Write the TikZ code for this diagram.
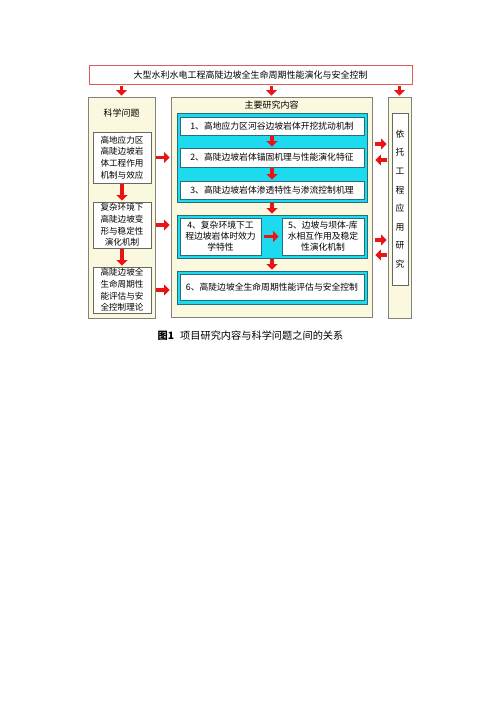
\documentclass[tikz,border=0pt]{standalone}
\usepackage{fontspec}
\setmainfont{Noto Sans CJK SC}
\usetikzlibrary{arrows.meta,calc}
\definecolor{panelfill}{RGB}{250,248,222}
\definecolor{panelline}{RGB}{130,130,120}
\definecolor{cyanfill}{RGB}{30,218,238}
\definecolor{cyanline}{RGB}{40,110,120}
\definecolor{arrowred}{RGB}{235,20,20}
\definecolor{topline}{RGB}{225,90,90}
\tikzset{
  panel/.style={draw=panelline, line width=0.9pt, fill=panelfill, minimum width=#1, inner sep=0pt},
  box/.style={draw=panelline!80!black, line width=0.8pt, fill=white, inner sep=0pt, align=center,
    font=\fontsize{8.6}{11.6}\selectfont},
  cyanbox/.style={draw=cyanline, line width=0.8pt, fill=cyanfill, inner sep=0pt},
  wbox/.style={draw=cyanline, line width=0.8pt, fill=white, inner sep=0pt, align=center,
    font=\fontsize{8.8}{11}\selectfont},
  ttl/.style={font=\fontsize{9}{11}\selectfont, inner sep=0pt},
  redarrow/.style={draw=arrowred, line width=3.8pt, -{Triangle[length=5.5pt,width=11pt]},
    shorten <=1pt, shorten >=1pt},
}
\begin{document}
\begin{tikzpicture}[x=1pt,y=-1pt]
\useasboundingbox[fill=white] (0,0) rectangle (500,708);
% top
\node[draw=topline, line width=0.9pt, fill=white, minimum width=323pt, minimum height=19pt,
  inner sep=0pt, font=\fontsize{9}{11}\selectfont] (top) at (250.5,75)
  {大型水利水电工程高陡边坡全生命周期性能演化与安全控制};
% left panel
\node[panel=67pt, minimum height=221pt] (L) at (121.5,207.5) {};
\node[ttl] (Lt) at (121.5,113) {科学问题};
\node[box, minimum width=58pt, minimum height=51pt] (L1) at (122,157.5) {高地应力区\\高陡边坡岩\\体工程作用\\机制与效应};
\node[box, minimum width=58pt, minimum height=46pt] (L2) at (122,225) {复杂环境下\\高陡边坡变\\形与稳定性\\演化机制};
\node[box, minimum width=58pt, minimum height=46pt] (L3) at (122,290) {高陡边坡全\\生命周期性\\能评估与安\\全控制理论};
% middle panel
\node[panel=201pt, minimum height=220pt] (M) at (271.5,207) {};
\node[ttl] (Mt) at (271.5,105) {主要研究内容};
\node[cyanbox, minimum width=190pt, minimum height=89pt] (CA) at (272,157.5) {};
\node[wbox, minimum width=184pt, minimum height=18pt] (B1) at (272,126) {1、高地应力区河谷边坡岩体开挖扰动机制};
\node[wbox, minimum width=184pt, minimum height=19pt] (B2) at (272,157.5) {2、高陡边坡岩体锚固机理与性能演化特征};
\node[wbox, minimum width=184pt, minimum height=18pt] (B3) at (272,190) {3、高陡边坡岩体渗透特性与渗流控制机理};
\node[cyanbox, minimum width=190pt, minimum height=43pt] (CB) at (272,236.5) {};
\node[wbox, minimum width=81pt, minimum height=37pt] (B4) at (220.5,236.5) {4、复杂环境下工\\程边坡岩体时效力\\学特性};
\node[wbox, minimum width=82pt, minimum height=37pt] (B5) at (323,236.5) {5、边坡与坝体-库\\水相互作用及稳定\\性演化机制};
\node[cyanbox, minimum width=190pt, minimum height=33pt] (CC) at (272,287.5) {};
\node[wbox, minimum width=184pt, minimum height=26pt] (B6) at (272,287) {6、高陡边坡全生命周期性能评估与安全控制};
% right panel
\node[panel=23pt, minimum height=221pt] (R) at (399.5,207.5) {};
\node[box, minimum width=16pt, minimum height=172pt, font=\fontsize{8.8}{18.6}\selectfont] (RI) at (400,199)
  {依\\托\\工\\程\\应\\用\\研\\究};
% caption
\node[inner sep=0pt, font=\fontsize{10.2}{12}\selectfont] (cap) at (250.5,336)
  {\textbf{图1}\hspace{0.6em}项目研究内容与科学问题之间的关系};
% arrows
\coordinate (r1) at (0,144);
\coordinate (r2) at (0,160);
\coordinate (r3) at (0,240);
\coordinate (r4) at (0,255);
\draw[redarrow] (top.south -| L.north) -- (L.north);
\draw[redarrow] (top.south -| M.north) -- (M.north);
\draw[redarrow] (top.south -| R.north) -- (R.north);
\draw[redarrow] (L1.south) -- (L2.north);
\draw[redarrow] (L2.south) -- (L3.north);
\draw[redarrow] (L.east |- L1) -- (M.west |- L1);
\draw[redarrow] (L.east |- L2) -- (M.west |- L2);
\draw[redarrow] (L.east |- L3) -- (M.west |- L3);
\draw[redarrow] (B1.south) -- (B2.north);
\draw[redarrow] (B2.south) -- (B3.north);
\draw[redarrow] (CA.south) -- (CB.north);
\draw[redarrow, shorten <=3pt, shorten >=3pt] (B4.east) -- (B5.west);
\draw[redarrow] (CB.south) -- (CC.north);
\draw[redarrow, shorten <=3pt] (M.east |- r1) -- (R.west |- r1);
\draw[redarrow, shorten >=3pt] (R.west |- r2) -- (M.east |- r2);
\draw[redarrow, shorten <=3pt] (M.east |- r3) -- (R.west |- r3);
\draw[redarrow, shorten >=3pt] (R.west |- r4) -- (M.east |- r4);
\end{tikzpicture}
\end{document}
